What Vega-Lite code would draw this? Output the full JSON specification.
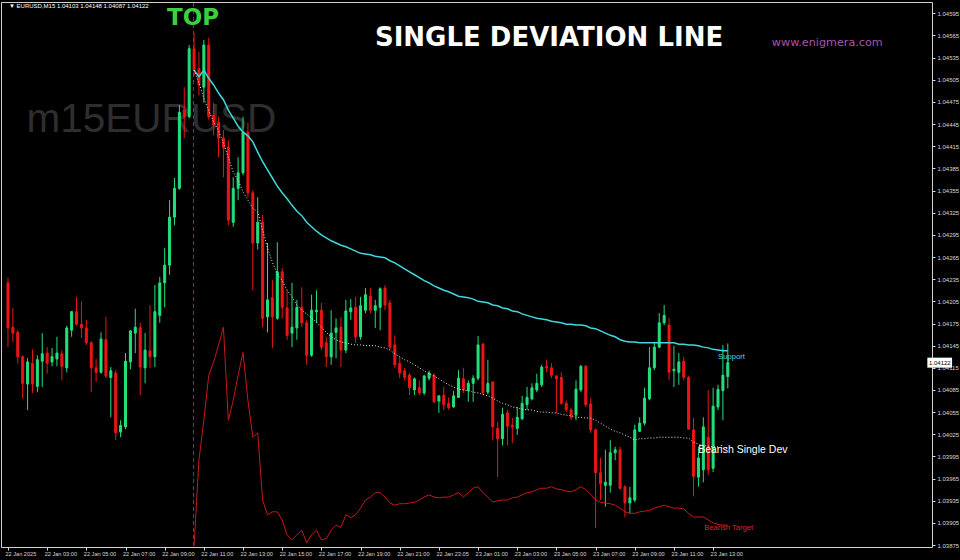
{
"$schema": "https://vega.github.io/schema/vega-lite/v6.json",
"width": 931, "height": 545,
"autosize": {"type": "none"},
"padding": {"left": 1, "top": 2, "right": 28, "bottom": 13},
"background": "#000000",
"config": {"view": {"stroke": "#d0d0d0", "strokeWidth": 1}, "axis": {"labelFont": "Liberation Sans", "grid": false, "domain": false, "labelOverlap": false, "labelBound": false, "labelFlush": false, "tickCount": 40}},
"data": {"values": [
{"i":0,"o":1.04230,"h":1.04237,"l":1.04143,"c":1.04169},
{"i":1,"o":1.04170,"h":1.04196,"l":1.04150,"c":1.04162},
{"i":2,"o":1.04163,"h":1.04166,"l":1.04121,"c":1.04130},
{"i":3,"o":1.04130,"h":1.04132,"l":1.04074,"c":1.04094},
{"i":4,"o":1.04093,"h":1.04128,"l":1.04058,"c":1.04123},
{"i":5,"o":1.04121,"h":1.04140,"l":1.04081,"c":1.04093},
{"i":6,"o":1.04090,"h":1.04132,"l":1.04082,"c":1.04126},
{"i":7,"o":1.04124,"h":1.04162,"l":1.04089,"c":1.04134},
{"i":8,"o":1.04135,"h":1.04143,"l":1.04107,"c":1.04121},
{"i":9,"o":1.04123,"h":1.04142,"l":1.04117,"c":1.04130},
{"i":10,"o":1.04127,"h":1.04157,"l":1.04117,"c":1.04135},
{"i":11,"o":1.04134,"h":1.04139,"l":1.04098,"c":1.04117},
{"i":12,"o":1.04115,"h":1.04172,"l":1.04109,"c":1.04169},
{"i":13,"o":1.04166,"h":1.04192,"l":1.04157,"c":1.04191},
{"i":14,"o":1.04191,"h":1.04211,"l":1.04172,"c":1.04174},
{"i":15,"o":1.04174,"h":1.04205,"l":1.04155,"c":1.04169},
{"i":16,"o":1.04169,"h":1.04180,"l":1.04146,"c":1.04149},
{"i":17,"o":1.04149,"h":1.04151,"l":1.04082,"c":1.04115},
{"i":18,"o":1.04115,"h":1.04127,"l":1.04096,"c":1.04109},
{"i":19,"o":1.04109,"h":1.04163,"l":1.04107,"c":1.04154},
{"i":20,"o":1.04153,"h":1.04184,"l":1.04101,"c":1.04104},
{"i":21,"o":1.04102,"h":1.04116,"l":1.04048,"c":1.04111},
{"i":22,"o":1.04108,"h":1.04112,"l":1.04017,"c":1.04027},
{"i":23,"o":1.04028,"h":1.04044,"l":1.04021,"c":1.04037},
{"i":24,"o":1.04035,"h":1.04135,"l":1.04032,"c":1.04124},
{"i":25,"o":1.04123,"h":1.04166,"l":1.04113,"c":1.04165},
{"i":26,"o":1.04162,"h":1.04195,"l":1.04135,"c":1.04170},
{"i":27,"o":1.04169,"h":1.04176,"l":1.04078,"c":1.04116},
{"i":28,"o":1.04115,"h":1.04162,"l":1.04094,"c":1.04139},
{"i":29,"o":1.04138,"h":1.04200,"l":1.04115,"c":1.04130},
{"i":30,"o":1.04130,"h":1.04227,"l":1.04116,"c":1.04191},
{"i":31,"o":1.04186,"h":1.04238,"l":1.04176,"c":1.04230},
{"i":32,"o":1.04230,"h":1.04277,"l":1.04197,"c":1.04254},
{"i":33,"o":1.04254,"h":1.04342,"l":1.04241,"c":1.04319},
{"i":34,"o":1.04319,"h":1.04372,"l":1.04308,"c":1.04358},
{"i":35,"o":1.04358,"h":1.04471,"l":1.04356,"c":1.04461},
{"i":36,"o":1.04464,"h":1.04495,"l":1.04426,"c":1.04455},
{"i":37,"o":1.04455,"h":1.04552,"l":1.04453,"c":1.04547},
{"i":38,"o":1.04547,"h":1.04568,"l":1.04511,"c":1.04518,"support":1.04518,"dev":1.04518,"target":1.03874},
{"i":39,"o":1.04520,"h":1.04543,"l":1.04484,"c":1.04498,"support":1.04509,"dev":1.04501,"target":1.03990},
{"i":40,"o":1.04495,"h":1.04559,"l":1.04474,"c":1.04552,"support":1.04518,"dev":1.04480,"target":1.04044},
{"i":41,"o":1.04552,"h":1.04562,"l":1.04451,"c":1.04455,"support":1.04507,"dev":1.04463,"target":1.04105},
{"i":42,"o":1.04457,"h":1.04474,"l":1.04430,"c":1.04444,"support":1.04498,"dev":1.04448,"target":1.04123},
{"i":43,"o":1.04447,"h":1.04455,"l":1.04400,"c":1.04426,"support":1.04487,"dev":1.04436,"target":1.04146},
{"i":44,"o":1.04426,"h":1.04437,"l":1.04373,"c":1.04413,"support":1.04478,"dev":1.04419,"target":1.04170},
{"i":45,"o":1.04414,"h":1.04423,"l":1.04308,"c":1.04315,"support":1.04464,"dev":1.04400,"target":1.04044},
{"i":46,"o":1.04312,"h":1.04373,"l":1.04306,"c":1.04358,"support":1.04453,"dev":1.04380,"target":1.04071},
{"i":47,"o":1.04358,"h":1.04400,"l":1.04342,"c":1.04379,"support":1.04442,"dev":1.04369,"target":1.04105},
{"i":48,"o":1.04379,"h":1.04455,"l":1.04376,"c":1.04434,"support":1.04434,"dev":1.04353,"target":1.04136},
{"i":49,"o":1.04434,"h":1.04447,"l":1.04346,"c":1.04352,"support":1.04429,"dev":1.04342,"target":1.04071},
{"i":50,"o":1.04352,"h":1.04356,"l":1.04220,"c":1.04284,"support":1.04421,"dev":1.04331,"target":1.04021},
{"i":51,"o":1.04284,"h":1.04346,"l":1.04275,"c":1.04312,"support":1.04407,"dev":1.04326,"target":1.04027},
{"i":52,"o":1.04312,"h":1.04322,"l":1.04170,"c":1.04182,"support":1.04394,"dev":1.04302,"target":1.03936},
{"i":53,"o":1.04184,"h":1.04284,"l":1.04163,"c":1.04207,"support":1.04383,"dev":1.04277,"target":1.03916},
{"i":54,"o":1.04210,"h":1.04234,"l":1.04142,"c":1.04184,"support":1.04372,"dev":1.04258,"target":1.03920},
{"i":55,"o":1.04182,"h":1.04285,"l":1.04180,"c":1.04245,"support":1.04361,"dev":1.04242,"target":1.03920},
{"i":56,"o":1.04245,"h":1.04250,"l":1.04182,"c":1.04197,"support":1.04352,"dev":1.04233,"target":1.03909},
{"i":57,"o":1.04196,"h":1.04220,"l":1.04153,"c":1.04159,"support":1.04344,"dev":1.04220,"target":1.03889},
{"i":58,"o":1.04162,"h":1.04230,"l":1.04143,"c":1.04170,"support":1.04335,"dev":1.04211,"target":1.03882},
{"i":59,"o":1.04169,"h":1.04207,"l":1.04153,"c":1.04197,"support":1.04327,"dev":1.04200,"target":1.03889},
{"i":60,"o":1.04197,"h":1.04224,"l":1.04170,"c":1.04176,"support":1.04321,"dev":1.04193,"target":1.03895},
{"i":61,"o":1.04176,"h":1.04180,"l":1.04119,"c":1.04132,"support":1.04312,"dev":1.04188,"target":1.03878},
{"i":62,"o":1.04132,"h":1.04214,"l":1.04130,"c":1.04193,"support":1.04306,"dev":1.04182,"target":1.03889},
{"i":63,"o":1.04191,"h":1.04220,"l":1.04176,"c":1.04193,"support":1.04300,"dev":1.04177,"target":1.03895},
{"i":64,"o":1.04193,"h":1.04203,"l":1.04139,"c":1.04143,"support":1.04295,"dev":1.04170,"target":1.03882},
{"i":65,"o":1.04149,"h":1.04157,"l":1.04116,"c":1.04130,"support":1.04291,"dev":1.04163,"target":1.03884},
{"i":66,"o":1.04130,"h":1.04193,"l":1.04119,"c":1.04162,"support":1.04287,"dev":1.04157,"target":1.03895},
{"i":67,"o":1.04163,"h":1.04182,"l":1.04128,"c":1.04169,"support":1.04284,"dev":1.04153,"target":1.03902},
{"i":68,"o":1.04170,"h":1.04184,"l":1.04116,"c":1.04139,"support":1.04281,"dev":1.04150,"target":1.03899},
{"i":69,"o":1.04139,"h":1.04207,"l":1.04135,"c":1.04192,"support":1.04279,"dev":1.04149,"target":1.03916},
{"i":70,"o":1.04191,"h":1.04208,"l":1.04180,"c":1.04196,"support":1.04276,"dev":1.04147,"target":1.03912},
{"i":71,"o":1.04197,"h":1.04211,"l":1.04149,"c":1.04157,"support":1.04273,"dev":1.04146,"target":1.03916},
{"i":72,"o":1.04157,"h":1.04211,"l":1.04153,"c":1.04199,"support":1.04270,"dev":1.04146,"target":1.03925},
{"i":73,"o":1.04193,"h":1.04223,"l":1.04189,"c":1.04214,"support":1.04269,"dev":1.04145,"target":1.03936},
{"i":74,"o":1.04212,"h":1.04223,"l":1.04189,"c":1.04193,"support":1.04268,"dev":1.04145,"target":1.03940},
{"i":75,"o":1.04193,"h":1.04207,"l":1.04169,"c":1.04199,"support":1.04266,"dev":1.04145,"target":1.03946},
{"i":76,"o":1.04197,"h":1.04224,"l":1.04166,"c":1.04222,"support":1.04265,"dev":1.04143,"target":1.03946},
{"i":77,"o":1.04223,"h":1.04227,"l":1.04193,"c":1.04200,"support":1.04264,"dev":1.04142,"target":1.03940},
{"i":78,"o":1.04203,"h":1.04207,"l":1.04139,"c":1.04143,"support":1.04260,"dev":1.04139,"target":1.03932},
{"i":79,"o":1.04146,"h":1.04159,"l":1.04115,"c":1.04119,"support":1.04257,"dev":1.04134,"target":1.03929},
{"i":80,"o":1.04121,"h":1.04130,"l":1.04101,"c":1.04108,"support":1.04253,"dev":1.04130,"target":1.03931},
{"i":81,"o":1.04111,"h":1.04115,"l":1.04098,"c":1.04102,"support":1.04249,"dev":1.04126,"target":1.03931},
{"i":82,"o":1.04105,"h":1.04108,"l":1.04078,"c":1.04088,"support":1.04245,"dev":1.04123,"target":1.03932},
{"i":83,"o":1.04085,"h":1.04102,"l":1.04078,"c":1.04100,"support":1.04241,"dev":1.04119,"target":1.03933},
{"i":84,"o":1.04088,"h":1.04098,"l":1.04078,"c":1.04081,"support":1.04237,"dev":1.04115,"target":1.03936},
{"i":85,"o":1.04081,"h":1.04105,"l":1.04078,"c":1.04104,"support":1.04233,"dev":1.04111,"target":1.03940},
{"i":86,"o":1.04101,"h":1.04111,"l":1.04098,"c":1.04108,"support":1.04230,"dev":1.04107,"target":1.03943},
{"i":87,"o":1.04105,"h":1.04108,"l":1.04067,"c":1.04069,"support":1.04226,"dev":1.04104,"target":1.03940},
{"i":88,"o":1.04070,"h":1.04078,"l":1.04054,"c":1.04077,"support":1.04223,"dev":1.04100,"target":1.03939},
{"i":89,"o":1.04078,"h":1.04089,"l":1.04058,"c":1.04065,"support":1.04220,"dev":1.04096,"target":1.03940},
{"i":90,"o":1.04067,"h":1.04075,"l":1.04058,"c":1.04061,"support":1.04218,"dev":1.04092,"target":1.03940},
{"i":91,"o":1.04062,"h":1.04084,"l":1.04061,"c":1.04077,"support":1.04215,"dev":1.04089,"target":1.03943},
{"i":92,"o":1.04075,"h":1.04112,"l":1.04074,"c":1.04101,"support":1.04212,"dev":1.04086,"target":1.03946},
{"i":93,"o":1.04100,"h":1.04115,"l":1.04081,"c":1.04085,"support":1.04211,"dev":1.04085,"target":1.03940},
{"i":94,"o":1.04084,"h":1.04098,"l":1.04069,"c":1.04094,"support":1.04210,"dev":1.04084,"target":1.03946},
{"i":95,"o":1.04094,"h":1.04105,"l":1.04069,"c":1.04101,"support":1.04208,"dev":1.04082,"target":1.03952},
{"i":96,"o":1.04101,"h":1.04158,"l":1.04098,"c":1.04146,"support":1.04205,"dev":1.04081,"target":1.03954},
{"i":97,"o":1.04147,"h":1.04149,"l":1.04078,"c":1.04081,"support":1.04204,"dev":1.04079,"target":1.03946},
{"i":98,"o":1.04082,"h":1.04126,"l":1.04079,"c":1.04094,"support":1.04203,"dev":1.04077,"target":1.03940},
{"i":99,"o":1.04096,"h":1.04097,"l":1.04017,"c":1.04035,"support":1.04200,"dev":1.04074,"target":1.03933},
{"i":100,"o":1.04033,"h":1.04042,"l":1.03967,"c":1.04019,"support":1.04199,"dev":1.04070,"target":1.03935},
{"i":101,"o":1.04019,"h":1.04061,"l":1.04010,"c":1.04052,"support":1.04196,"dev":1.04067,"target":1.03936},
{"i":102,"o":1.04054,"h":1.04058,"l":1.04010,"c":1.04036,"support":1.04195,"dev":1.04065,"target":1.03936},
{"i":103,"o":1.04037,"h":1.04047,"l":1.04013,"c":1.04035,"support":1.04192,"dev":1.04062,"target":1.03939},
{"i":104,"o":1.04033,"h":1.04062,"l":1.04024,"c":1.04048,"support":1.04191,"dev":1.04061,"target":1.03940},
{"i":105,"o":1.04046,"h":1.04077,"l":1.04044,"c":1.04067,"support":1.04188,"dev":1.04059,"target":1.03943},
{"i":106,"o":1.04065,"h":1.04089,"l":1.04058,"c":1.04075,"support":1.04186,"dev":1.04058,"target":1.03946},
{"i":107,"o":1.04073,"h":1.04094,"l":1.04071,"c":1.04088,"support":1.04184,"dev":1.04058,"target":1.03947},
{"i":108,"o":1.04085,"h":1.04107,"l":1.04082,"c":1.04094,"support":1.04182,"dev":1.04056,"target":1.03950},
{"i":109,"o":1.04092,"h":1.04119,"l":1.04089,"c":1.04116,"support":1.04181,"dev":1.04055,"target":1.03952},
{"i":110,"o":1.04117,"h":1.04126,"l":1.04109,"c":1.04115,"support":1.04180,"dev":1.04055,"target":1.03952},
{"i":111,"o":1.04115,"h":1.04121,"l":1.04101,"c":1.04105,"support":1.04178,"dev":1.04054,"target":1.03954},
{"i":112,"o":1.04104,"h":1.04105,"l":1.04054,"c":1.04100,"support":1.04177,"dev":1.04054,"target":1.03951},
{"i":113,"o":1.04102,"h":1.04109,"l":1.04065,"c":1.04067,"support":1.04176,"dev":1.04052,"target":1.03950},
{"i":114,"o":1.04067,"h":1.04071,"l":1.04055,"c":1.04058,"support":1.04174,"dev":1.04051,"target":1.03948},
{"i":115,"o":1.04058,"h":1.04061,"l":1.04044,"c":1.04048,"support":1.04174,"dev":1.04050,"target":1.03947},
{"i":116,"o":1.04051,"h":1.04098,"l":1.04044,"c":1.04086,"support":1.04173,"dev":1.04048,"target":1.03950},
{"i":117,"o":1.04085,"h":1.04119,"l":1.04082,"c":1.04117,"support":1.04173,"dev":1.04048,"target":1.03954},
{"i":118,"o":1.04117,"h":1.04119,"l":1.04062,"c":1.04065,"support":1.04172,"dev":1.04047,"target":1.03950},
{"i":119,"o":1.04066,"h":1.04074,"l":1.04027,"c":1.04031,"support":1.04169,"dev":1.04047,"target":1.03944},
{"i":120,"o":1.04031,"h":1.04033,"l":1.03898,"c":1.03973,"support":1.04168,"dev":1.04044,"target":1.03936},
{"i":121,"o":1.03973,"h":1.03993,"l":1.03936,"c":1.03958,"support":1.04165,"dev":1.04040,"target":1.03933},
{"i":122,"o":1.03956,"h":1.04004,"l":1.03927,"c":1.03960,"support":1.04162,"dev":1.04036,"target":1.03932},
{"i":123,"o":1.03956,"h":1.04017,"l":1.03946,"c":1.04000,"support":1.04159,"dev":1.04032,"target":1.03931},
{"i":124,"o":1.04000,"h":1.04008,"l":1.03990,"c":1.04004,"support":1.04157,"dev":1.04029,"target":1.03929},
{"i":125,"o":1.04004,"h":1.04008,"l":1.03950,"c":1.03952,"support":1.04153,"dev":1.04027,"target":1.03925},
{"i":126,"o":1.03954,"h":1.03956,"l":1.03913,"c":1.03932,"support":1.04151,"dev":1.04024,"target":1.03920},
{"i":127,"o":1.03932,"h":1.03954,"l":1.03918,"c":1.03939,"support":1.04150,"dev":1.04021,"target":1.03918},
{"i":128,"o":1.03936,"h":1.04038,"l":1.03933,"c":1.04031,"support":1.04150,"dev":1.04017,"target":1.03918},
{"i":129,"o":1.04029,"h":1.04048,"l":1.04028,"c":1.04040,"support":1.04149,"dev":1.04019,"target":1.03920},
{"i":130,"o":1.04040,"h":1.04088,"l":1.04037,"c":1.04074,"support":1.04149,"dev":1.04019,"target":1.03921},
{"i":131,"o":1.04073,"h":1.04143,"l":1.04071,"c":1.04115,"support":1.04149,"dev":1.04020,"target":1.03922},
{"i":132,"o":1.04115,"h":1.04149,"l":1.04112,"c":1.04143,"support":1.04149,"dev":1.04020,"target":1.03925},
{"i":133,"o":1.04143,"h":1.04189,"l":1.04142,"c":1.04176,"support":1.04149,"dev":1.04021,"target":1.03927},
{"i":134,"o":1.04176,"h":1.04200,"l":1.04173,"c":1.04186,"support":1.04149,"dev":1.04021,"target":1.03929},
{"i":135,"o":1.04173,"h":1.04182,"l":1.04098,"c":1.04109,"support":1.04149,"dev":1.04021,"target":1.03927},
{"i":136,"o":1.04111,"h":1.04145,"l":1.04089,"c":1.04113,"support":1.04149,"dev":1.04021,"target":1.03925},
{"i":137,"o":1.04109,"h":1.04135,"l":1.04092,"c":1.04123,"support":1.04147,"dev":1.04021,"target":1.03925},
{"i":138,"o":1.04124,"h":1.04130,"l":1.04098,"c":1.04102,"support":1.04147,"dev":1.04020,"target":1.03924},
{"i":139,"o":1.04102,"h":1.04104,"l":1.04031,"c":1.04032,"support":1.04146,"dev":1.04020,"target":1.03918},
{"i":140,"o":1.04031,"h":1.04047,"l":1.03941,"c":1.03968,"support":1.04146,"dev":1.04014,"target":1.03913},
{"i":141,"o":1.03967,"h":1.04008,"l":1.03954,"c":1.03993,"support":1.04145,"dev":1.04012,"target":1.03913},
{"i":142,"o":1.03977,"h":1.04048,"l":1.03960,"c":1.04035,"support":1.04143,"dev":1.04010,"target":1.03913},
{"i":143,"o":1.04021,"h":1.04085,"l":1.03970,"c":1.03977,"support":1.04142,"dev":1.04009,"target":1.03909},
{"i":144,"o":1.03979,"h":1.04088,"l":1.03974,"c":1.04063,"support":1.04140,"dev":1.04008,"target":1.03905},
{"i":145,"o":1.04062,"h":1.04092,"l":1.04058,"c":1.04086,"support":1.04139,"dev":1.04008,"target":1.03903},
{"i":146,"o":1.04084,"h":1.04146,"l":1.04044,"c":1.04105,"support":1.04138,"dev":1.04006,"target":1.03902},
{"i":147,"o":1.04103,"h":1.04148,"l":1.04087,"c":1.04122,"support":1.04138,"dev":1.04006,"target":1.03902}
]},
"layer": [
{
  "transform": [{"filter": "datum.i == 0"}],
  "mark": {"type": "text", "font": "Liberation Sans", "fontSize": 40.5, "color": "#2e2e2e", "align": "left", "baseline": "alphabetic", "text": "m15EURUSD"},
  "encoding": {
    "x": {"datum": 3.78, "type": "quantitative", "title": null, "scale": {"domain": [-0.404, 187.68], "nice": false, "zero": false}},
    "y": {"datum": 1.04434, "type": "quantitative", "title": null, "scale": {"domain": [1.038724, 1.046103], "nice": false, "zero": false}}
  }
},
{
  "transform": [{"filter": "datum.i == 0"}],
  "mark": {"type": "rule", "color": "#7030a8", "strokeDash": [4, 3], "strokeWidth": 1},
  "encoding": {
    "x": {"datum": 37.9, "type": "quantitative", "title": null, "scale": {"domain": [-0.404, 187.68], "nice": false, "zero": false}},
    "y": {"datum": 1.04609, "type": "quantitative", "title": null, "scale": {"domain": [1.038724, 1.046103], "nice": false, "zero": false}},
    "y2": {"datum": 1.03874}
  }
},
{
  "mark": {"type": "rule", "strokeWidth": 1},
  "encoding": {
    "x": {"field": "i", "type": "quantitative", "title": null, "scale": {"domain": [-0.404, 187.68], "nice": false, "zero": false},
      "axis": {"values": [0,8,16,24,32,40,48,56,64,72,80,88,96,104,112,120,128,136,144], "tickCount": 40,
        "labelExpr": "datum.value == 0 ? '22 Jan 2025' : datum.value == 88 ? '22 Jan 23:05' : (datum.value < 96 ? '22 Jan ' : '23 Jan ') + pad(toString((1 + datum.value / 4) % 24), 2, '0', 'left') + ':00'",
        "labelAlign": "left", "labelOffset": -3, "labelFontSize": 5.6, "labelColor": "#d8d8d8", "labelPadding": 1,
        "tickSize": 3, "tickColor": "#d8d8d8", "labelFlush": false, "labelOverlap": false, "labelBound": false}},
    "y": {"field": "l", "type": "quantitative", "title": null, "scale": {"domain": [1.038724, 1.046103], "nice": false, "zero": false},
      "axis": {"orient": "right", "tickCount": 40, "values": [1.03875,1.03905,1.03935,1.03965,1.03995,1.04025,1.04055,1.04085,1.04115,1.04145,1.04175,1.04205,1.04235,1.04265,1.04295,1.04325,1.04355,1.04385,1.04415,1.04445,1.04475,1.04505,1.04535,1.04565,1.04595],
        "format": ".5f", "labelFontSize": 6, "labelColor": "#d8d8d8", "labelPadding": 2, "tickSize": 3, "tickColor": "#d8d8d8",
        "labelOverlap": false, "labelBound": false, "labelFlush": false}},
    "y2": {"field": "h"},
    "color": {"condition": {"test": "datum.c >= datum.o", "value": "#22e07c"}, "value": "#ec1515"}
  }
},
{
  "mark": {"type": "bar", "width": 2, "strokeWidth": 1},
  "encoding": {
    "x": {"field": "i", "type": "quantitative", "title": null, "scale": {"domain": [-0.404, 187.68], "nice": false, "zero": false}},
    "y": {"field": "o", "type": "quantitative", "title": null, "scale": {"domain": [1.038724, 1.046103], "nice": false, "zero": false}},
    "y2": {"field": "c"},
    "fill": {"condition": {"test": "datum.c >= datum.o", "value": "#22e07c"}, "value": "#ec1515"},
    "stroke": {"condition": {"test": "datum.c >= datum.o", "value": "#22e07c"}, "value": "#ec1515"}
  }
},
{
  "transform": [{"filter": "isValid(datum.target)"}],
  "mark": {"type": "line", "color": "#c81818", "strokeWidth": 1},
  "encoding": {
    "x": {"field": "i", "type": "quantitative", "title": null, "scale": {"domain": [-0.404, 187.68], "nice": false, "zero": false}},
    "y": {"field": "target", "type": "quantitative", "title": null, "scale": {"domain": [1.038724, 1.046103], "nice": false, "zero": false}}
  }
},
{
  "transform": [{"filter": "isValid(datum.support)"}],
  "mark": {"type": "line", "color": "#40d8dc", "strokeWidth": 1.5},
  "encoding": {
    "x": {"field": "i", "type": "quantitative", "title": null, "scale": {"domain": [-0.404, 187.68], "nice": false, "zero": false}},
    "y": {"field": "support", "type": "quantitative", "title": null, "scale": {"domain": [1.038724, 1.046103], "nice": false, "zero": false}}
  }
},
{
  "transform": [{"filter": "isValid(datum.dev)"}],
  "mark": {"type": "line", "color": "#e8e8e8", "strokeWidth": 1, "strokeDash": [1, 2]},
  "encoding": {
    "x": {"field": "i", "type": "quantitative", "title": null, "scale": {"domain": [-0.404, 187.68], "nice": false, "zero": false}},
    "y": {"field": "dev", "type": "quantitative", "title": null, "scale": {"domain": [1.038724, 1.046103], "nice": false, "zero": false}}
  }
},
{
  "transform": [{"filter": "datum.i == 147"}],
  "mark": {"type": "rule", "color": "#ffffff", "strokeWidth": 10},
  "encoding": {
    "x": {"datum": 187.75, "type": "quantitative", "title": null, "scale": {"domain": [-0.404, 187.68], "nice": false, "zero": false}},
    "x2": {"datum": 192.8},
    "y": {"field": "c", "type": "quantitative", "title": null, "scale": {"domain": [1.038724, 1.046103], "nice": false, "zero": false}}
  }
},
{
  "transform": [{"filter": "datum.i == 147"}],
  "mark": {"type": "text", "font": "Liberation Sans", "fontSize": 6, "color": "#000000", "align": "center", "baseline": "middle"},
  "encoding": {
    "x": {"datum": 190.3, "type": "quantitative", "title": null, "scale": {"domain": [-0.404, 187.68], "nice": false, "zero": false}},
    "y": {"field": "c", "type": "quantitative", "title": null, "scale": {"domain": [1.038724, 1.046103], "nice": false, "zero": false}},
    "text": {"field": "c", "format": ".5f"}
  }
},
{
  "transform": [{"filter": "datum.i == 0"}],
  "mark": {"type": "text", "font": "Liberation Sans", "fontSize": 6, "color": "#ffffff", "align": "left", "baseline": "middle", "text": "\u25bc EURUSD,M15  1.04103 1.04148 1.04087 1.04122"},
  "encoding": {
    "x": {"datum": 0.2, "type": "quantitative", "title": null, "scale": {"domain": [-0.404, 187.68], "nice": false, "zero": false}},
    "y": {"datum": 1.04605, "type": "quantitative", "title": null, "scale": {"domain": [1.038724, 1.046103], "nice": false, "zero": false}}
  }
},
{
  "transform": [{"filter": "datum.i == 0"}],
  "mark": {"type": "text", "font": "DejaVu Sans", "fontWeight": "bold", "fontSize": 23, "color": "#3ecf3e", "align": "center", "baseline": "middle", "text": "TOP"},
  "encoding": {
    "x": {"datum": 37.8, "type": "quantitative", "title": null, "scale": {"domain": [-0.404, 187.68], "nice": false, "zero": false}},
    "y": {"datum": 1.04589, "type": "quantitative", "title": null, "scale": {"domain": [1.038724, 1.046103], "nice": false, "zero": false}}
  }
},
{
  "transform": [{"filter": "datum.i == 0"}],
  "mark": {"type": "text", "font": "DejaVu Sans", "fontWeight": "bold", "fontSize": 26, "color": "#ffffff", "align": "center", "baseline": "middle", "text": "SINGLE DEVIATION LINE"},
  "encoding": {
    "x": {"datum": 110.5, "type": "quantitative", "title": null, "scale": {"domain": [-0.404, 187.68], "nice": false, "zero": false}},
    "y": {"datum": 1.04562, "type": "quantitative", "title": null, "scale": {"domain": [1.038724, 1.046103], "nice": false, "zero": false}}
  }
},
{
  "transform": [{"filter": "datum.i == 0"}],
  "mark": {"type": "text", "font": "DejaVu Sans", "fontSize": 11.2, "color": "#a855a8", "align": "left", "baseline": "middle", "text": "www.enigmera.com"},
  "encoding": {
    "x": {"datum": 156.0, "type": "quantitative", "title": null, "scale": {"domain": [-0.404, 187.68], "nice": false, "zero": false}},
    "y": {"datum": 1.04555, "type": "quantitative", "title": null, "scale": {"domain": [1.038724, 1.046103], "nice": false, "zero": false}}
  }
},
{
  "transform": [{"filter": "datum.i == 0"}],
  "mark": {"type": "text", "font": "Liberation Sans", "fontSize": 7.7, "color": "#40d8dc", "align": "left", "baseline": "middle", "text": "Support"},
  "encoding": {
    "x": {"datum": 145.0, "type": "quantitative", "title": null, "scale": {"domain": [-0.404, 187.68], "nice": false, "zero": false}},
    "y": {"datum": 1.0413, "type": "quantitative", "title": null, "scale": {"domain": [1.038724, 1.046103], "nice": false, "zero": false}}
  }
},
{
  "transform": [{"filter": "datum.i == 0"}],
  "mark": {"type": "text", "font": "Liberation Sans", "fontSize": 10.5, "color": "#ffffff", "align": "left", "baseline": "middle", "text": "Bearish Single Dev"},
  "encoding": {
    "x": {"datum": 140.95, "type": "quantitative", "title": null, "scale": {"domain": [-0.404, 187.68], "nice": false, "zero": false}},
    "y": {"datum": 1.04004, "type": "quantitative", "title": null, "scale": {"domain": [1.038724, 1.046103], "nice": false, "zero": false}}
  }
},
{
  "transform": [{"filter": "datum.i == 0"}],
  "mark": {"type": "text", "font": "Liberation Sans", "fontSize": 7.6, "color": "#e02020", "align": "left", "baseline": "middle", "text": "Bearish Target"},
  "encoding": {
    "x": {"datum": 142.2, "type": "quantitative", "title": null, "scale": {"domain": [-0.404, 187.68], "nice": false, "zero": false}},
    "y": {"datum": 1.03898, "type": "quantitative", "title": null, "scale": {"domain": [1.038724, 1.046103], "nice": false, "zero": false}}
  }
}
]
}
